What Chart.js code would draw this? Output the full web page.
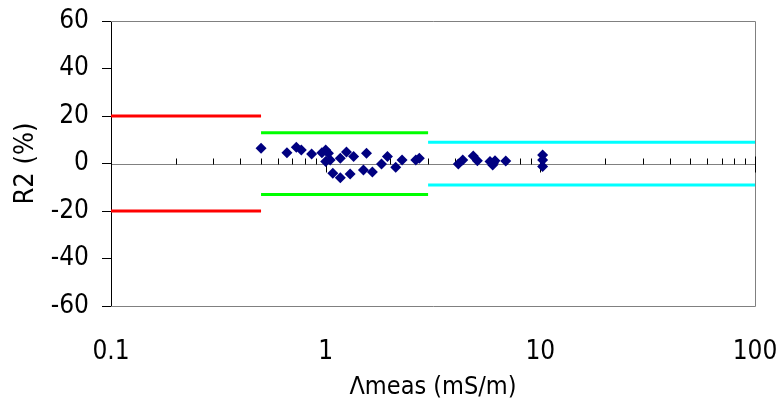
<!DOCTYPE html>
<html>
<head>
<meta charset="utf-8">
<script src="https://cdn.jsdelivr.net/npm/chart.js@4"></script>
<style>
  html, body { margin: 0; padding: 0; background: #fff; }
  #wrap { width: 782px; height: 412px; position: relative; }
</style>
</head>
<body>
<div id="wrap"><canvas id="r2Chart"></canvas></div>
<script>
const X_MEAS = [0.50, 0.66, 0.73, 0.77, 0.86, 0.96, 1.00, 1.03, 1.00, 1.05,
                1.08, 1.17, 1.17, 1.25, 1.30, 1.35, 1.50, 1.55, 1.65, 1.82,
                1.94, 2.12, 2.27, 2.63, 2.73, 4.15, 4.35, 4.87, 5.09, 5.83,
                6.00, 6.15, 6.05, 6.90, 10.25, 10.25, 10.25];
const R2 = [6.4, 4.5, 6.8, 5.7, 4.0, 4.5, 5.7, 4.3, 0.8, 1.5,
            -4.1, 2.2, -6.0, 4.8, -4.4, 2.9, -2.7, 4.3, -3.6, -0.2,
            2.9, -1.6, 1.5, 1.5, 2.2, -0.2, 1.5, 3.2, 1.2, 0.8,
            -0.6, 1.2, 0.2, 1.1, 3.6, 1.5, -1.3];

// tolerance bands: edges on x, +/- limit on y
const BAND_EDGES = [0.1, 0.5, 3, 100];
const BAND_LIMITS = [20, 13, 9];

const X_TICKS = [0.1, 1, 10, 100];
const Y_MIN = -60, Y_MAX = 60, Y_STEP = 20;

const BAND_COLORS = ['#ff0000', '#00ff00', '#00ffff'];
const FONT = "'DejaVu Sans Condensed', 'DejaVu Sans', sans-serif";

let bandSets = [];
BAND_LIMITS.forEach((lim, i) => {
    [lim, -lim].forEach(v => {
        bandSets.push({
            data: [{ x: BAND_EDGES[i], y: v }, { x: BAND_EDGES[i + 1], y: v }],
            showLine: true,
            borderColor: BAND_COLORS[i],
            borderWidth: 3,
            pointRadius: 0,
            fill: false
        });
    });
});

// gray frame + zero line with log ticks (Excel style)
const axisFrame = {
    id: 'axisFrame',
    beforeDatasetsDraw(chart) {
        const { ctx, chartArea: a, scales: { x, y } } = chart;
        ctx.save();
        ctx.lineWidth = 1;
        ctx.strokeStyle = '#808080';
        ctx.beginPath();
        ctx.moveTo(a.left, a.top + 0.5);
        ctx.lineTo(a.right + 0.5, a.top + 0.5);
        ctx.lineTo(a.right + 0.5, a.bottom + 0.5);
        ctx.lineTo(a.left, a.bottom + 0.5);
        let y0 = Math.round(y.getPixelForValue(0)) + 0.5;
        ctx.moveTo(a.left, y0);
        ctx.lineTo(a.right, y0);
        ctx.stroke();

        ctx.strokeStyle = '#000';
        ctx.beginPath();
        for (let e = -1; e <= 2; e++) {
            for (let k = 1; k <= 9; k++) {
                let v = k * Math.pow(10, e);
                if (v > 100.0001) break;
                let px = Math.round(x.getPixelForValue(v)) + 0.5;
                if (k === 1) {
                    ctx.moveTo(px, y0 - 8);
                    ctx.lineTo(px, y0 + 8);
                } else {
                    ctx.moveTo(px, y0 - 6);
                    ctx.lineTo(px, y0);
                }
            }
        }
        ctx.stroke();
        ctx.restore();
    }
};

let ctx = document.getElementById('r2Chart').getContext('2d');
let r2Chart = new Chart(ctx, {
    type: 'scatter',
    data: {
        datasets: [{
            data: X_MEAS.map((v, i) => ({ x: v, y: R2[i] })),
            pointStyle: 'rectRot',
            pointRadius: 5.5,
            backgroundColor: '#000080',
            borderColor: '#000080',
            borderWidth: 0
        }, ...bandSets]
    },
    options: {
        responsive: true,
        maintainAspectRatio: false,
        animation: false,
        layout: {
            padding: { left: 0, right: 27, top: 21, bottom: 0 }
        },
        plugins: {
            legend: { display: false },
            tooltip: { enabled: false }
        },
        scales: {
            x: {
                type: 'logarithmic',
                min: 0.1,
                max: 100,
                afterBuildTicks: scale => {
                    scale.ticks = X_TICKS.map(v => ({ value: v }));
                },
                afterFit: scale => {
                    scale.height = 106;
                    scale.paddingLeft = 0;
                    scale.paddingRight = 0;
                },
                grid: { display: false, drawTicks: false },
                border: { display: false },
                ticks: {
                    autoSkip: false,
                    maxRotation: 0,
                    padding: 31,
                    color: '#000',
                    font: { family: FONT, size: 26 },
                    callback: v => String(v)
                },
                title: {
                    display: true,
                    text: 'Λmeas (mS/m)',
                    color: '#000',
                    font: { family: FONT, size: 25 },
                    padding: { top: 0, bottom: 10 }
                }
            },
            y: {
                min: Y_MIN,
                max: Y_MAX,
                afterFit: scale => {
                    scale.width = 111;
                    scale.paddingTop = 0;
                    scale.paddingBottom = 0;
                },
                grid: {
                    drawOnChartArea: false,
                    drawTicks: true,
                    tickLength: 9,
                    color: '#000'
                },
                border: { display: true, color: '#000', width: 1 },
                ticks: {
                    stepSize: Y_STEP,
                    padding: 13,
                    color: '#000',
                    font: { family: FONT, size: 26 }
                },
                title: {
                    display: true,
                    text: 'R2 (%)',
                    color: '#000',
                    font: { family: FONT, size: 27 },
                    padding: { top: 10, bottom: 0 }
                }
            }
        }
    },
    plugins: [axisFrame]
});
</script>
</body>
</html>
